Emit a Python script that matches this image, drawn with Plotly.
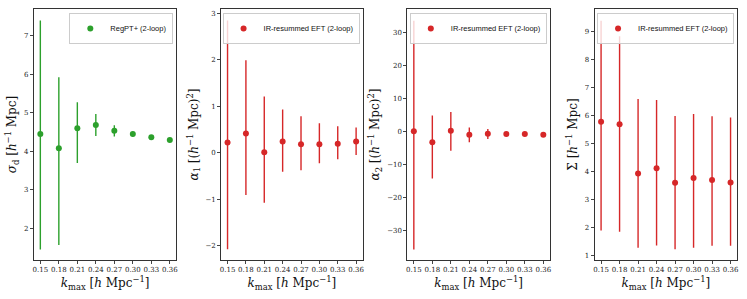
import plotly.graph_objects as go

kmax = [0.15, 0.18, 0.21, 0.24, 0.27, 0.30, 0.33, 0.36]
x_ticks = [0.15, 0.18, 0.21, 0.24, 0.27, 0.30, 0.33, 0.36]
x_ticklabels = ["0.15", "0.18", "0.21", "0.24", "0.27", "0.30", "0.33", "0.36"]

# sigma_d (RegPT+ 2-loop)
sigd = [4.45, 4.08, 4.60, 4.69, 4.54, 4.45, 4.37, 4.30]
sigd_up = [7.40, 5.93, 5.28, 4.97, 4.68, 4.51, 4.41, 4.33]
sigd_lo = [1.45, 1.57, 3.70, 4.40, 4.39, 4.39, 4.33, 4.27]

# alpha_1
a1 = [0.22, 0.41, 0.01, 0.24, 0.18, 0.18, 0.19, 0.24]
a1_up = [2.84, 1.99, 1.21, 0.93, 0.78, 0.63, 0.57, 0.54]
a1_lo = [-2.08, -0.91, -1.08, -0.41, -0.38, -0.23, -0.14, -0.05]

# alpha_2
a2 = [0.0, -3.3, 0.2, -1.0, -0.7, -0.8, -0.8, -1.0]
a2_up = [33.6, 4.8, 5.9, 1.2, 0.7, -0.3, -0.4, -0.6]
a2_lo = [-35.9, -14.3, -5.9, -3.3, -2.3, -1.4, -1.2, -1.4]

# Sigma
sig = [5.77, 5.68, 3.92, 4.11, 3.59, 3.76, 3.69, 3.60]
sig_up = [9.38, 8.83, 6.58, 6.55, 5.98, 6.05, 5.97, 5.92]
sig_lo = [1.88, 1.84, 1.27, 1.35, 1.21, 1.27, 1.34, 1.34]

GREEN = "#2ca02c"
RED = "#d62728"

W, H = 747, 299
top, bot = 9, 260
xdoms = [(33, 176), (221, 363), (408, 551), (596, 739)]
yranges = [(1.18, 7.70), (-2.31, 3.09), (-39.1, 37.2), (0.83, 9.80)]
yticks = [[2, 3, 4, 5, 6, 7], [-2, -1, 0, 1, 2, 3],
          [-30, -20, -10, 0, 10, 20, 30], [1, 2, 3, 4, 5, 6, 7, 8, 9]]
ylabels = ["<i>σ</i><sub>d</sub> [<i>h</i><sup>−1</sup> Mpc]",
           "<i>α</i><sub>1</sub> [(<i>h</i><sup>−1</sup> Mpc)<sup>2</sup>]",
           "<i>α</i><sub>2</sub> [(<i>h</i><sup>−1</sup> Mpc)<sup>2</sup>]",
           "Σ [<i>h</i><sup>−1</sup> Mpc]"]
xlabel = "<i>k</i><sub>max</sub> [<i>h</i> Mpc<sup>−1</sup>]"

series = [
    (sigd, sigd_up, sigd_lo, GREEN, "RegPT+ (2-loop)"),
    (a1, a1_up, a1_lo, RED, "IR-resummed EFT (2-loop)"),
    (a2, a2_up, a2_lo, RED, "IR-resummed EFT (2-loop)"),
    (sig, sig_up, sig_lo, RED, "IR-resummed EFT (2-loop)"),
]

fig = go.Figure()
layout = dict(width=W, height=H, margin=dict(l=0, r=0, t=0, b=0),
              plot_bgcolor="white", paper_bgcolor="white", showlegend=True)

for i, (y, up, lo, col, name) in enumerate(series):
    n = "" if i == 0 else str(i + 1)
    err_p = [u - v for u, v in zip(up, y)]
    err_m = [v - l for v, l in zip(y, lo)]
    fig.add_trace(go.Scatter(
        x=kmax, y=y, mode="markers", name=name,
        marker=dict(color=col, size=6),
        error_y=dict(type="data", array=err_p, arrayminus=err_m,
                     color=col, thickness=1.4, width=0),
        xaxis="x" + n, yaxis="y" + n, legend="legend" + n,
    ))
    x0, x1 = xdoms[i]
    layout["xaxis" + n] = dict(
        domain=[x0 / W, x1 / W], anchor="y" + n, range=[0.1395, 0.3705],
        tickvals=x_ticks, ticktext=x_ticklabels, ticks="outside", ticklen=3,
        tickfont=dict(family="DejaVu Serif", size=7, color="#222"),
        showline=True, linecolor="#333", linewidth=1, mirror=True,
        showgrid=False, zeroline=False,
        title=dict(text=xlabel, font=dict(family="DejaVu Serif", size=12, color="#111"), standoff=4),
    )
    layout["yaxis" + n] = dict(
        domain=[1 - bot / H, 1 - top / H], anchor="x" + n, range=list(yranges[i]),
        tickvals=yticks[i], ticks="outside", ticklen=3,
        tickfont=dict(family="DejaVu Serif", size=7, color="#222"),
        showline=True, linecolor="#333", linewidth=1, mirror=True,
        showgrid=False, zeroline=False,
        title=dict(text=ylabels[i], font=dict(family="DejaVu Serif", size=12, color="#111"), standoff=4),
    )
    layout["legend" + n] = dict(
        x=(x1 - 3) / W, y=1 - 13 / H, xanchor="right", yanchor="top",
        bgcolor="rgba(255,255,255,0.8)", bordercolor="#cccccc", borderwidth=1,
        font=dict(family="Liberation Sans", size=7.5, color="#111"),
        itemwidth=30, tracegroupgap=0,
    )

fig.update_layout(**layout)
fig.write_html("out.html", config={"displayModeBar": False},
               post_script="document.body.style.margin='0';document.body.style.overflow='hidden';")
